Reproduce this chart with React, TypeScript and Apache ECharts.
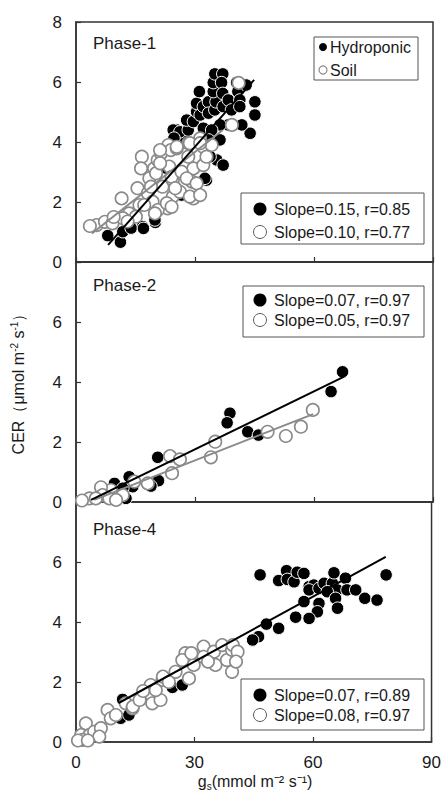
import React, { useEffect, useRef } from "react";
import * as echarts from "echarts";

const xTicks = [0, 30, 60, 90];
const yTicks = [0, 2, 4, 6, 8];
const panelNames = ["Phase-1", "Phase-2", "Phase-4"];
const seriesNames = ["Hydroponic", "Soil"];

const p1Hydro = [
  [8.0, 0.88], [11.2, 0.66], [11.8, 1.01], [16.8, 1.18], [20.0, 1.32], [13.9, 1.13], [19.9, 1.4], [17, 1.12],
  [22.9, 3.12], [26.6, 2.23], [32.9, 2.73], [32.5, 2.79], [25.4, 4.4], [27.5, 4.07], [24.5, 4.4], [26.2, 4.34],
  [28.3, 4.4], [27.9, 4.73], [29.6, 4.68], [30.4, 5.01], [31.3, 4.9], [30.4, 5.29], [31.1, 5.68], [32.1, 5.18],
  [33.4, 5.34], [33.4, 4.96], [35.0, 5.07], [35.3, 5.34], [34.6, 5.68], [34.6, 5.98], [35.0, 6.27], [37.0, 6.27],
  [36.7, 5.98], [37.0, 5.62], [37.1, 5.18], [38.4, 5.4], [39.2, 5.07], [40.5, 5.98], [40.8, 5.68], [41.3, 5.4],
  [41.3, 5.18], [42.9, 5.9], [45.1, 5.34], [45.1, 4.9], [43.9, 4.29], [41.8, 4.57], [38.4, 4.57], [36.3, 4.57],
  [32.1, 4.46], [34.2, 4.4], [33.4, 4.07], [36.3, 4.07], [35.5, 3.4], [37.1, 3.23], [33.8, 3.51], [24.7, 4.13],
];
const p1Soil = [
  [5.2, 1.23], [7.3, 1.34], [9.2, 1.29], [3.5, 1.2], [11.5, 2.12], [16.6, 3.51], [13.4, 1.62], [16, 1.9],
  [15.5, 2.46], [18.1, 2.29], [18.5, 2.79], [19.7, 3.12], [20.6, 3.4], [21.4, 3.62], [23.3, 3.9], [23.9, 3.73],
  [21.8, 2.51], [23.1, 1.79], [19.3, 2.01], [20.6, 1.73], [17.2, 1.9], [15.1, 1.51], [11.8, 1.46], [18.9, 2.51],
  [20.2, 2.96], [16.4, 3.12], [23.5, 3.18], [24.4, 2.73], [24.4, 2.18], [28.3, 3.96], [32.1, 3.84], [34.2, 3.9],
  [29.6, 3.12], [32.1, 3.23], [29.2, 2.68], [29.6, 2.12], [26.2, 2.34], [22.9, 1.96], [19.9, 1.62], [24.1, 2.84],
  [26.6, 3.01], [21.2, 3.29], [21.2, 3.73], [25.4, 3.79], [31.3, 4.12], [28.3, 3.51], [32.9, 3.51], [25.4, 3.84],
  [28.7, 3.96], [31.3, 3.96], [27.9, 2.79], [30.4, 2.62], [25, 2.46], [28.7, 2.18], [31.3, 2.23], [24.1, 1.84],
  [41, 5.97], [39.3, 4.57], [13, 1.35], [9.5, 1.5],
];
const p1HydroFit = [[8.1, 0.57], [44.9, 6.07]];
const p1SoilFit = [[4, 0.95], [37, 4.4]];

const p2Hydro = [
  [67.2, 4.34], [64.3, 3.68], [38.8, 2.96], [38.1, 2.64], [43.3, 2.34], [46.0, 2.23], [20.6, 1.49], [20.8, 0.71],
  [18.9, 0.53], [13.4, 0.84], [14.3, 0.51], [9.7, 0.62], [11.8, 0.46], [12.6, 0.12], [24.4, 0.96],
];
const p2Soil = [
  [59.7, 3.07], [56.7, 2.51], [52.9, 2.2], [48.3, 2.34], [35.1, 2.01], [34.0, 1.49], [23.7, 1.53], [26.2, 1.42],
  [24.2, 0.96], [18.1, 0.62], [14.7, 0.68], [8.8, 0.4], [6.3, 0.49], [6.7, 0.23], [3.4, 0.12], [11.8, 0.23],
  [8.4, 0.12], [5.0, 0.12], [10.1, 0.07], [1.5, 0.05],
];
const p2HydroFit = [[3.8, 0.07], [67.6, 4.18]];
const p2SoilFit = [[4.6, 0.07], [59.8, 2.93]];

const p4Hydro = [
  [11.8, 1.42], [11.3, 0.79], [13.4, 0.9], [16.4, 1.42], [24.4, 1.82], [26.9, 1.9], [46.6, 5.57], [51.3, 5.38],
  [53.3, 5.71], [53.5, 5.42], [55.2, 5.34], [56.0, 5.66], [57.7, 5.62], [59.0, 5.18], [60.2, 5.23], [59.0, 5.07],
  [61.5, 5.12], [62.8, 5.29], [64.9, 5.29], [65.3, 5.64], [66.1, 5.07], [68.2, 5.46], [68.6, 5.07], [70.8, 5.07],
  [73.1, 4.79], [76.2, 4.73], [78.5, 5.57], [63.6, 5.01], [65.7, 4.79], [57.7, 4.68], [61.5, 4.62], [61.1, 4.34],
  [59.0, 4.12], [55.6, 4.16], [51.3, 3.79], [48.2, 3.93], [46.2, 3.51], [44.7, 3.4], [66.2, 4.46],
];
const p4Soil = [
  [2.5, 0.62], [1.3, 0.23], [3.4, 0.23], [1.7, 0.07], [4.6, 0.34], [6.3, 0.46], [5.9, 0.18], [8.0, 1.07],
  [8.8, 0.79], [10.1, 0.9], [12.6, 1.29], [14.3, 1.12], [18.9, 1.9], [19.3, 1.29], [21.4, 1.4], [21.9, 2.07],
  [20.2, 1.73], [25.2, 2.34], [27.7, 2.96], [28.6, 2.12], [29.8, 2.57], [32.3, 3.18], [32.3, 2.84], [34.9, 3.01],
  [35.3, 2.57], [37.0, 3.23], [38.2, 2.73], [39.5, 3.07], [39.5, 2.34], [26.9, 2.73], [22, 2.18], [29.2, 2.96],
  [33.4, 2.68], [14.4, 1.18], [16.1, 1.4], [39.7, 3.23], [40.9, 3.01], [40.5, 2.68], [0.5, 0.05], [3, 0.05],
  [23.5, 2.0], [17, 1.7],
];
const p4HydroFit = [[10.8, 1.3], [78.4, 6.17]];

const statsLabels = [
  ["Slope=0.15, r=0.85", "Slope=0.10, r=0.77"],
  ["Slope=0.07, r=0.97", "Slope=0.05, r=0.97"],
  ["Slope=0.07, r=0.89", "Slope=0.08, r=0.97"],
];

const FONT = "'Liberation Sans', Arial, sans-serif";
const INK = "#1a1a1a";
const GRAY = "#8a8a8a";

export default function App() {
  const ref = useRef<HTMLDivElement>(null);
  useEffect(() => {
    if (!ref.current) return;
    const chart = echarts.init(ref.current, null, { renderer: "svg" });
    const gridTops = [22, 262, 502];
    const grids = gridTops.map((top) => ({
      left: 76, width: 357, top, height: 240,
      show: true, borderColor: "#333", borderWidth: 1.5, backgroundColor: "transparent",
    }));
    const xAxes = gridTops.map((_, i) => ({
      type: "value", gridIndex: i, min: xTicks[0], max: xTicks[xTicks.length - 1], interval: 30,
      axisLine: { show: true, lineStyle: { color: "#333", width: 1.5 } },
      axisTick: { show: true, inside: true, length: 5, lineStyle: { color: "#333", width: 1.2 } },
      axisLabel: { show: i === 2, fontSize: 17, fontFamily: FONT, color: INK, margin: 12 },
      splitLine: { show: false },
    }));
    const yAxes = gridTops.map((_, i) => ({
      type: "value", gridIndex: i, min: yTicks[0], max: yTicks[yTicks.length - 1], interval: 2,
      axisLine: { show: true, lineStyle: { color: "#333", width: 1.5 } },
      axisTick: { show: true, inside: true, length: 5, lineStyle: { color: "#333", width: 1.2 } },
      axisLabel: {
        fontSize: 17, fontFamily: FONT, color: INK, margin: 14,
        formatter: (v: number) => (i > 0 && v === 8 ? "" : String(v)),
      },
      splitLine: { show: false },
    }));
    const hydroSets = [p1Hydro, p2Hydro, p4Hydro];
    const soilSets = [p1Soil, p2Soil, p4Soil];
    const hydroFits = [p1HydroFit, p2HydroFit, p4HydroFit];
    const soilFits: (number[][] | null)[] = [p1SoilFit, p2SoilFit, null];
    const series: any[] = [];
    for (let i = 0; i < 3; i++) {
      series.push({
        name: seriesNames[0], type: "scatter", xAxisIndex: i, yAxisIndex: i, data: hydroSets[i],
        symbol: "circle", symbolSize: 12.5, z: 2,
        itemStyle: { color: "#000", borderColor: "#fff", borderWidth: 1, opacity: 1 },
      });
      series.push({
        name: seriesNames[1], type: "scatter", xAxisIndex: i, yAxisIndex: i, data: soilSets[i],
        symbol: "circle", symbolSize: 12.5, z: 3,
        itemStyle: { color: "#fff", borderColor: GRAY, borderWidth: 1.6, opacity: 1 },
      });
      series.push({
        name: seriesNames[0] + " fit", type: "line", xAxisIndex: i, yAxisIndex: i, data: hydroFits[i],
        symbol: "none", z: 5, lineStyle: { color: "#000", width: 2 },
      });
      const sf = soilFits[i];
      if (sf) {
        series.push({
          name: seriesNames[1] + " fit", type: "line", xAxisIndex: i, yAxisIndex: i, data: sf,
          symbol: "none", z: 4, lineStyle: { color: GRAY, width: 2 },
        });
      }
    }

    const txt = (text: string, x: number, y: number, size: number, extra: any = {}) => ({
      type: "text", x, y, z: 101,
      style: {
        text, fontSize: size, fontFamily: FONT, fill: INK,
        textAlign: "left", textVerticalAlign: "middle", align: "left", verticalAlign: "middle", ...extra,
      },
    });
    const graphic: any[] = [];
    const phaseY = [43, 285, 529];
    panelNames.forEach((n, i) => graphic.push(txt(n, 93, phaseY[i], 17)));

    // top legend
    graphic.push({ type: "rect", z: 100, shape: { x: 314, y: 37, width: 104, height: 43 }, style: { fill: "#fff", stroke: "#555", lineWidth: 1 } });
    graphic.push({ type: "circle", z: 101, shape: { cx: 323, cy: 47, r: 4 }, style: { fill: "#000" } });
    graphic.push({ type: "circle", z: 101, shape: { cx: 323, cy: 70, r: 4 }, style: { fill: "#fff", stroke: GRAY, lineWidth: 1.2 } });
    graphic.push(txt(seriesNames[0], 330, 47, 16));
    graphic.push(txt(seriesNames[1], 330, 70, 16));

    // stats boxes
    const boxes = [
      { x: 241, y: 193, l1: 209, l2: 232 },
      { x: 243, y: 286, l1: 300, l2: 320 },
      { x: 241, y: 679, l1: 695, l2: 715 },
    ];
    boxes.forEach((b, i) => {
      graphic.push({ type: "rect", z: 100, shape: { x: b.x, y: b.y, width: 424 - b.x, height: 51 }, style: { fill: "#fff", stroke: "#555", lineWidth: 1 } });
      graphic.push({ type: "circle", z: 101, shape: { cx: 260, cy: b.l1, r: 6.5 }, style: { fill: "#000" } });
      graphic.push({ type: "circle", z: 101, shape: { cx: 260, cy: b.l2, r: 6.5 }, style: { fill: "#fff", stroke: "#555", lineWidth: 1 } });
      graphic.push(txt(statsLabels[i][0], 274, b.l1, 16));
      graphic.push(txt(statsLabels[i][1], 274, b.l2, 16));
    });

    // axis titles
    graphic.push({
      type: "text", x: 18, y: 380, rotation: Math.PI / 2, z: 101,
      style: {
        text: "CER（μmol m{s|-2} s{s|-1}）", fontSize: 16, fontFamily: FONT, fill: INK,
        textAlign: "center", textVerticalAlign: "middle", align: "center", verticalAlign: "middle",
        rich: { s: { fontSize: 10, fontFamily: FONT, fill: INK, verticalAlign: "top", lineHeight: 18 } },
      },
    });
    graphic.push({
      type: "text", x: 255, y: 781, z: 101,
      style: {
        text: "g{b|s}(mmol m⁻² s⁻¹)", fontSize: 16, fontFamily: FONT, fill: INK,
        textAlign: "center", textVerticalAlign: "middle", align: "center", verticalAlign: "middle",
        rich: { b: { fontSize: 10, fontFamily: FONT, fill: INK, verticalAlign: "bottom", lineHeight: 20 } },
      },
    });

    chart.setOption({
      animation: false,
      backgroundColor: "#fff",
      grid: grids,
      xAxis: xAxes,
      yAxis: yAxes,
      series,
      graphic,
    });
    return () => chart.dispose();
  }, []);
  return <div ref={ref} style={{ position: "absolute", left: 0, top: 0, width: 444, height: 796 }} />;
}
